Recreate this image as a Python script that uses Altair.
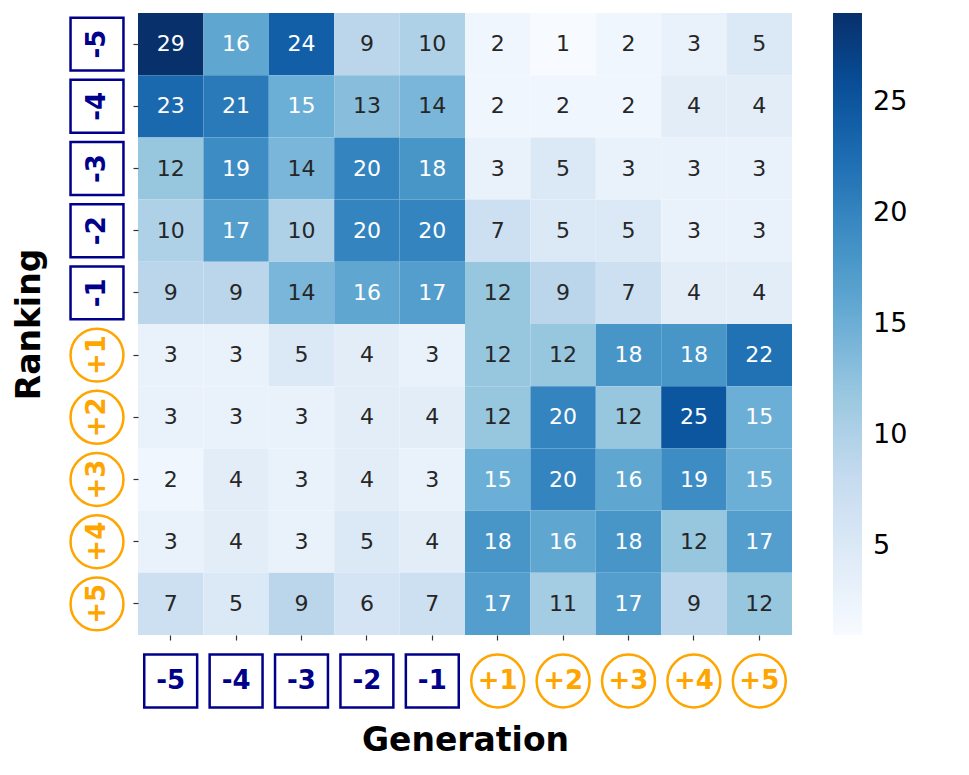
import altair as alt
import pandas as pd

rank_labels = ["-5", "-4", "-3", "-2", "-1", "+1", "+2", "+3", "+4", "+5"]
gen_labels = ["-5", "-4", "-3", "-2", "-1", "+1", "+2", "+3", "+4", "+5"]

values = [
    [29, 16, 24, 9, 10, 2, 1, 2, 3, 5],
    [23, 21, 15, 13, 14, 2, 2, 2, 4, 4],
    [12, 19, 14, 20, 18, 3, 5, 3, 3, 3],
    [10, 17, 10, 20, 20, 7, 5, 5, 3, 3],
    [9, 9, 14, 16, 17, 12, 9, 7, 4, 4],
    [3, 3, 5, 4, 3, 12, 12, 18, 18, 22],
    [3, 3, 3, 4, 4, 12, 20, 12, 25, 15],
    [2, 4, 3, 4, 3, 15, 20, 16, 19, 15],
    [3, 4, 3, 5, 4, 18, 16, 18, 12, 17],
    [7, 5, 9, 6, 7, 17, 11, 17, 9, 12],
]

colorbar_ticks = [5, 10, 15, 20, 25]
blues = ["#f7fbff", "#deebf7", "#c6dbef", "#9ecae1", "#6baed6",
         "#4292c6", "#2171b5", "#08519c", "#08306b"]
blue_stops = [1, 4.5, 8, 11.5, 15, 18.5, 22, 25.5, 29]

rows = []
for i, r in enumerate(rank_labels):
    for j, g in enumerate(gen_labels):
        rows.append({"Ranking": r, "Generation": g, "v": values[i][j]})
df = pd.DataFrame(rows)

lab = pd.DataFrame({
    "lab": rank_labels,
    "kind": ["neg" if s.startswith("-") else "pos" for s in rank_labels],
})

W, H = 654, 622
NAVY = "#00008B"
ORANGE = "#FFA500"

xs = alt.Scale(domain=gen_labels, paddingInner=0, paddingOuter=0)
ys = alt.Scale(domain=rank_labels, paddingInner=0, paddingOuter=0)

base = alt.Chart(df)

heat = base.mark_rect().encode(
    x=alt.X("Generation:N", scale=xs, sort=gen_labels,
            axis=alt.Axis(labels=False, ticks=True, tickSize=5, tickColor="#333333",
                          tickWidth=1.2, domain=False, title="Generation",
                          titleFont="DejaVu Sans", titleFontSize=33, titleFontWeight="bold",
                          titleColor="black", titlePadding=84)),
    y=alt.Y("Ranking:N", scale=ys, sort=rank_labels,
            axis=alt.Axis(labels=False, ticks=True, tickSize=5, tickColor="#333333",
                          tickWidth=1.2, domain=False, title="Ranking",
                          titleFont="DejaVu Sans", titleFontSize=33, titleFontWeight="bold",
                          titleColor="black", titlePadding=86)),
    color=alt.Color("v:Q",
                    scale=alt.Scale(domain=blue_stops, range=blues, interpolate="rgb"),
                    legend=alt.Legend(title=None, orient="right", offset=41,
                                      gradientLength=622, gradientThickness=29,
                                      gradientStrokeWidth=0,
                                      values=colorbar_ticks, labelFontSize=27,
                                      labelFont="DejaVu Sans", labelColor="black",
                                      labelOffset=11, direction="vertical")),
)

txt = base.mark_text(font="DejaVu Sans", fontSize=22).encode(
    x=alt.X("Generation:N", scale=xs, sort=gen_labels),
    y=alt.Y("Ranking:N", scale=ys, sort=rank_labels),
    text="v:Q",
    color=alt.condition(alt.datum.v >= 15, alt.value("white"), alt.value("#262626")),
)

shape_scale = alt.Scale(domain=["neg", "pos"], range=["square", "circle"])
col_scale = alt.Scale(domain=["neg", "pos"], range=[NAVY, ORANGE])

xlab_box = alt.Chart(lab).mark_point(filled=False, strokeWidth=2.5, size=2800, opacity=1).encode(
    x=alt.X("lab:N", scale=xs, sort=gen_labels),
    y=alt.value(H + 46),
    shape=alt.Shape("kind:N", scale=shape_scale, legend=None),
    stroke=alt.Stroke("kind:N", scale=col_scale, legend=None),
)
xlab_txt = alt.Chart(lab).mark_text(font="DejaVu Sans", fontSize=26, fontWeight="bold").encode(
    x=alt.X("lab:N", scale=xs, sort=gen_labels),
    y=alt.value(H + 46),
    text="lab:N",
    color=alt.Color("kind:N", scale=col_scale, legend=None),
)
ylab_box = alt.Chart(lab).mark_point(filled=False, strokeWidth=2.5, size=2800, opacity=1).encode(
    y=alt.Y("lab:N", scale=ys, sort=rank_labels),
    x=alt.value(-41),
    shape=alt.Shape("kind:N", scale=shape_scale, legend=None),
    stroke=alt.Stroke("kind:N", scale=col_scale, legend=None),
)
ylab_txt = alt.Chart(lab).mark_text(font="DejaVu Sans", fontSize=26, fontWeight="bold", angle=270).encode(
    y=alt.Y("lab:N", scale=ys, sort=rank_labels),
    x=alt.value(-41),
    text="lab:N",
    color=alt.Color("kind:N", scale=col_scale, legend=None),
)

chart = alt.layer(heat, txt, xlab_box, xlab_txt, ylab_box, ylab_txt).properties(
    width=W, height=H,
    padding={"left": 5, "top": 4, "right": 5, "bottom": 5},
).resolve_scale(color="independent").configure_view(stroke=None)

chart.save("out.html", embed_options={"renderer": "svg", "actions": False})
